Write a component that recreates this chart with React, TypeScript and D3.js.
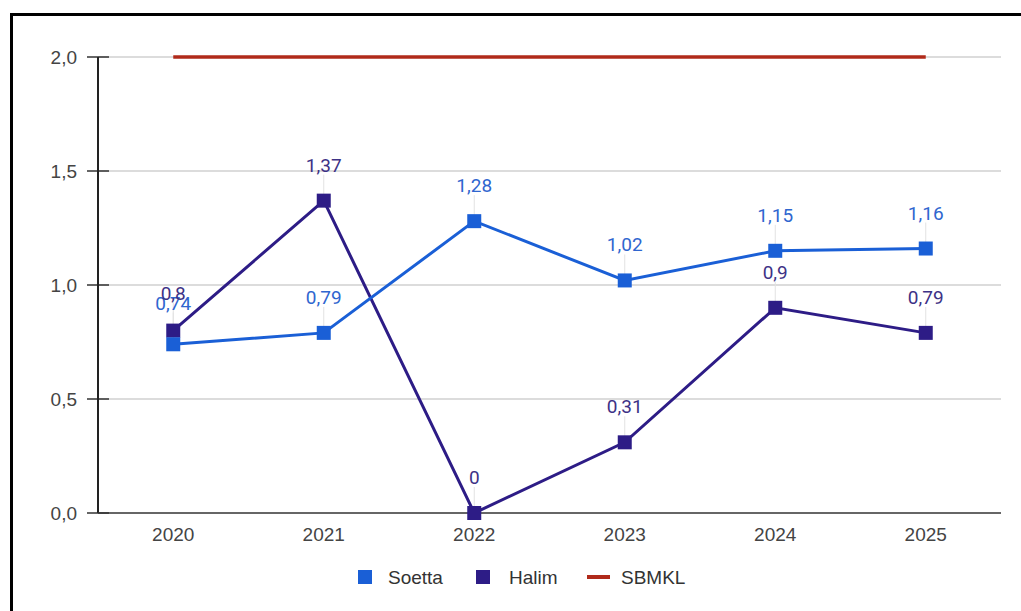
import React from "react";
import * as d3 from "d3";

const years = ["2020", "2021", "2022", "2023", "2024", "2025"];
const soetta = [0.74, 0.79, 1.28, 1.02, 1.15, 1.16];
const halim = [0.8, 1.37, 0, 0.31, 0.9, 0.79];
const sbmkl = [2, 2, 2, 2, 2, 2];
const yTicks = [0, 0.5, 1.0, 1.5, 2.0];

const W = 1021;
const H = 611;
const left = 98;
const right = 1001;
const top = 57;
const bottom = 513;

const C_SOETTA = "#1a5fd6";
const C_HALIM = "#2d1c86";
const C_SBMKL = "#b02a1a";
const L_SOETTA = "#2f66cf";
const L_HALIM = "#3d3286";

const fmt = (v: number) => String(v).replace(".", ",");

export default function App() {
  const x = d3.scalePoint<string>().domain(years).range([left, right]).padding(0.5);
  const y = d3.scaleLinear().domain([0, 2]).range([bottom, top]);
  const line = d3
    .line<number>()
    .x((_, i) => x(years[i]) as number)
    .y((d) => y(d));

  const labelY = (series: number[], other: number[], i: number, isSoetta: boolean) => {
    const a = y(series[i]) - 29;
    const b = y(other[i]) - 29;
    if (Math.abs(a - b) < 14) {
      const upper = Math.min(a, b);
      const mine = a > b || (a === b && isSoetta);
      return mine ? upper + 8 : upper - 2;
    }
    return a;
  };

  const series = [
    { name: "Soetta", data: soetta, color: C_SOETTA, lc: L_SOETTA, other: halim, s: true },
    { name: "Halim", data: halim, color: C_HALIM, lc: L_HALIM, other: soetta, s: false },
  ];

  const axisFont = "'Liberation Sans', Arial, sans-serif";
  const labelFont = "Roboto, 'Noto Sans', sans-serif";

  return (
    <svg
      width={W}
      height={H}
      style={{ position: "absolute", left: 0, top: 0, background: "#fff" }}
    >
      <rect x={0} y={0} width={W} height={H} fill="#fff" />
      <line x1={11.5} y1={13} x2={11.5} y2={H} stroke="#000" strokeWidth={3} />
      <line x1={10} y1={14.5} x2={W} y2={14.5} stroke="#000" strokeWidth={3} />

      {yTicks.map((t) => (
        <g key={t}>
          {t > 0 && (
            <line x1={left} x2={right} y1={y(t)} y2={y(t)} stroke="#d0d0d0" strokeWidth={1.5} />
          )}
          <line x1={87} x2={109} y1={y(t)} y2={y(t)} stroke="#333" strokeWidth={1.5} />
          <text
            x={77}
            y={y(t)}
            dy="0.36em"
            textAnchor="end"
            fontFamily={axisFont}
            fontSize={19}
            fill="#444"
          >
            {t.toFixed(1).replace(".", ",")}
          </text>
        </g>
      ))}

      <line x1={left} x2={left} y1={top} y2={bottom} stroke="#222" strokeWidth={2} />
      <line x1={left} x2={right} y1={bottom} y2={bottom} stroke="#333" strokeWidth={1.5} />
      {years.map((yr) => (
        <text
          key={yr}
          x={x(yr)}
          y={541}
          textAnchor="middle"
          fontFamily={axisFont}
          fontSize={19}
          fill="#444"
        >
          {yr}
        </text>
      ))}

      <path d={line(sbmkl) || ""} fill="none" stroke={C_SBMKL} strokeWidth={3.5} />

      {series.map((s) =>
        s.data.map((v, i) => {
          const ly = labelY(s.data, s.other, i, s.s);
          return (
            <line
              key={s.name + "l" + i}
              x1={x(years[i])}
              x2={x(years[i])}
              y1={ly + 3}
              y2={y(v)}
              stroke="#e2e2e2"
              strokeWidth={1}
            />
          );
        })
      )}

      {series
        .slice()
        .reverse()
        .map((s) => (
          <path key={s.name} d={line(s.data) || ""} fill="none" stroke={s.color} strokeWidth={3} />
        ))}
      {series
        .slice()
        .reverse()
        .map((s) =>
          s.data.map((v, i) => (
            <rect
              key={s.name + i}
              x={(x(years[i]) as number) - 7}
              y={y(v) - 7}
              width={14}
              height={14}
              fill={s.color}
            />
          ))
        )}

      {series.map((s) =>
        s.data.map((v, i) => (
          <text
            key={s.name + "t" + i}
            x={x(years[i])}
            y={labelY(s.data, s.other, i, s.s)}
            textAnchor="middle"
            fontFamily={labelFont}
            fontSize={19}
            fill={s.lc}
          >
            {fmt(v)}
          </text>
        ))
      )}

      <g fontFamily={axisFont} fontSize={19} fill="#333">
        <rect x={358} y={570} width={14} height={14} fill={C_SOETTA} />
        <text x={388} y={584}>Soetta</text>
        <rect x={476} y={570} width={14} height={14} fill={C_HALIM} />
        <text x={509} y={584}>Halim</text>
        <rect x={587} y={575} width={23} height={4} fill={C_SBMKL} />
        <text x={621} y={584}>SBMKL</text>
      </g>
    </svg>
  );
}
